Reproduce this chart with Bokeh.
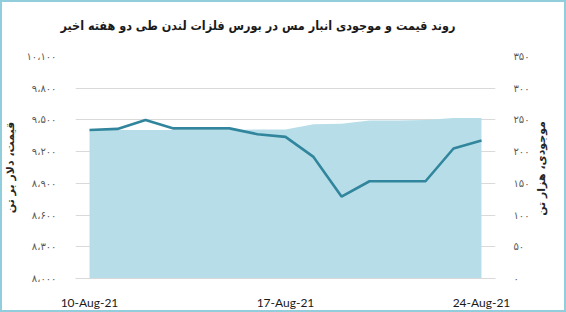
import math
import pandas as pd
from bokeh.plotting import figure
from bokeh.models import (Range1d, LinearAxis, FixedTicker, CustomJSTickFormatter,
                          DatetimeTickFormatter, ColumnDataSource, Title, Label)
from bokeh.embed import file_html
from bokeh.resources import INLINE

dates = ["2021-08-10", "2021-08-11", "2021-08-12", "2021-08-13", "2021-08-14",
         "2021-08-15", "2021-08-16", "2021-08-17", "2021-08-18", "2021-08-19",
         "2021-08-20", "2021-08-21", "2021-08-22", "2021-08-23", "2021-08-24"]
price = [9405, 9415, 9500, 9420, 9420, 9420, 9365, 9340, 9150, 8775,
         8920, 8920, 8920, 9230, 9305]
inventory = [234, 234, 234, 234, 234, 234, 235, 235, 243, 244,
             249, 249, 250, 253, 253]
x_tick_dates = ["2021-08-10", "2021-08-17", "2021-08-24"]
price_ticks = [8000, 8300, 8600, 8900, 9200, 9500, 9800, 10100]
inventory_ticks = [0, 50, 100, 150, 200, 250, 300, 350]
title_text = "روند قیمت و موجودی انبار مس در بورس فلزات لندن طی دو هفته اخیر"
left_label = "قیمت، دلار بر تن"
right_label = "موجودی، هزار تن"

x = pd.to_datetime(dates)
src = ColumnDataSource(dict(x=x, price=price, inventory=inventory))

half_day = pd.Timedelta(hours=12)
p = figure(width=566, height=312, output_backend="svg", toolbar_location=None,
           x_axis_type="datetime",
           x_range=Range1d(x[0] - half_day, x[-1] + half_day),
           y_range=Range1d(price_ticks[0], price_ticks[-1]),
           min_border_left=75, min_border_right=71, min_border_top=56,
           min_border_bottom=32)
p.extra_y_ranges = {"inv": Range1d(inventory_ticks[0], inventory_ticks[-1])}

p.varea(x="x", y1=0, y2="inventory", source=src, y_range_name="inv",
        fill_color="#b7dee8", fill_alpha=1.0)
p.line(x="x", y="price", source=src, line_color="#31859c", line_width=2.6)

fa_js = """
const fa = '۰۱۲۳۴۵۶۷۸۹';
let s = Math.round(tick).toString();
s = s.replace(/\\B(?=(\\d{3})+(?!\\d))/g, '،');
return s.replace(/\\d/g, d => fa[+d]);
"""

# left axis
ya = p.yaxis[0]
ya.ticker = FixedTicker(ticks=price_ticks)
ya.formatter = CustomJSTickFormatter(code=fa_js)
ya.axis_line_color = None
ya.major_tick_line_color = None
ya.minor_tick_line_color = None
ya.major_label_text_font = "DejaVu Sans"
ya.major_label_text_font_size = "10px"
ya.major_label_text_color = "#595959"
ya.major_label_standoff = 13
ya.axis_label = left_label
ya.axis_label_text_font = "DejaVu Sans"
ya.axis_label_text_font_style = "bold"
ya.axis_label_text_font_size = "11px"
ya.axis_label_text_color = "#262626"
ya.axis_label_standoff = 6

# right axis
ra = LinearAxis(y_range_name="inv", ticker=FixedTicker(ticks=inventory_ticks),
                formatter=CustomJSTickFormatter(code=fa_js))
ra.axis_line_color = None
ra.major_tick_line_color = None
ra.minor_tick_line_color = None
ra.major_label_text_font = "DejaVu Sans"
ra.major_label_text_font_size = "10px"
ra.major_label_text_color = "#595959"
ra.major_label_standoff = 12
p.add_layout(ra, "right")

# right axis title, drawn in its own side panel next to the right axis
p.add_layout(Label(x=9, y=110, x_units="screen", y_units="screen",
                   text=right_label, angle=math.pi / 2,
                   text_align="center", text_baseline="middle",
                   text_font="DejaVu Sans", text_font_size="11px",
                   text_font_style="bold", text_color="#262626"), "right")

# x axis
xa = p.xaxis[0]
xa.ticker = FixedTicker(ticks=[pd.Timestamp(d).value // 10**6 for d in x_tick_dates])
xa.formatter = DatetimeTickFormatter(days="%d-%b-%y", months="%d-%b-%y")
xa.axis_line_color = "#d9d9d9"
xa.major_tick_line_color = None
xa.minor_tick_line_color = None
xa.major_label_text_font = "Lato"
xa.major_label_text_font_size = "12px"
xa.major_label_text_color = "#1a1a1a"
xa.major_label_standoff = 10

p.xgrid.grid_line_color = None
p.ygrid.ticker = FixedTicker(ticks=price_ticks)
p.ygrid.grid_line_color = "#d9d9d9"
p.outline_line_color = None
p.border_fill_color = None
p.background_fill_color = None

# invisible axis above the frame, used only as a spacer below the title
spacer = LinearAxis(ticker=FixedTicker(ticks=[]), axis_line_color=None,
                    major_tick_line_color=None, minor_tick_line_color=None,
                    major_tick_out=0, minor_tick_out=0,
                    axis_label=".", axis_label_text_alpha=0.0,
                    axis_label_text_font_size="11px", axis_label_standoff=13)
p.add_layout(spacer, "above")

t = Title(text=title_text, align="right", offset=40, vertical_align="bottom",
          text_font="DejaVu Sans Condensed", text_font_size="12.5px",
          text_font_style="bold", text_color="#1a1a1a", standoff=0)
p.add_layout(t, "above")

p.styles = {"box-shadow": "inset 0 0 0 2px #92cddc", "background-color": "white"}

open("out.html", "w").write(file_html(p, INLINE))
